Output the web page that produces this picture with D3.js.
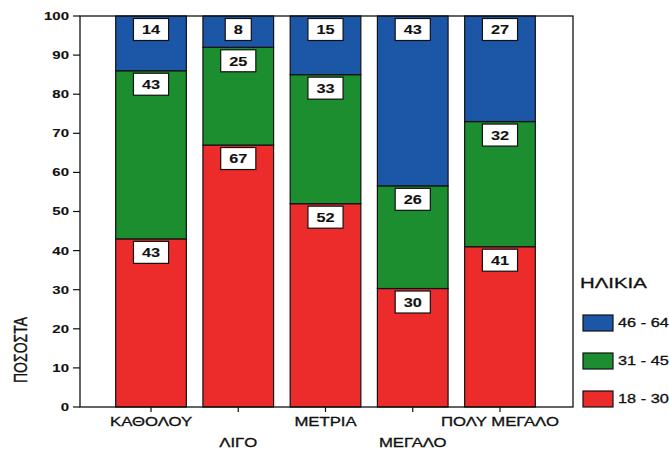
<!DOCTYPE html>
<html>
<head>
<meta charset="utf-8">
<script src="https://cdn.jsdelivr.net/npm/d3@7"></script>
<style>
  html, body { margin: 0; padding: 0; background: #fff; }
  svg { display: block; font-family: "Liberation Sans", Arial, sans-serif; }
</style>
</head>
<body>
<svg id="chart" width="669" height="451"></svg>
<script>
// ---- data ----
const categories = ["ΚΑΘΟΛΟΥ", "ΛΙΓΟ", "ΜΕΤΡΙΑ", "ΜΕΓΑΛΟ", "ΠΟΛΥ ΜΕΓΑΛΟ"];
const seriesNames = ["18 - 30", "31 - 45", "46 - 64"];
const age18_30 = [43, 67, 52, 30, 41];
const age31_45 = [43, 25, 33, 26, 32];
const age46_64 = [14, 8, 15, 43, 27];
const yTicks = [0, 10, 20, 30, 40, 50, 60, 70, 80, 90, 100];
const seriesColors = ["#ec2c2a", "#1c8e30", "#1c56a6"];
const legendTitle = "ΗΛΙΚΙΑ";
const yTitle = "ΠΟΣΟΣΤΑ";

// ---- setup ----
const SX = 1.36; // horizontal stretch of the scanned original's text
const svg = d3.select("#chart");
const frame = { left: 80, right: 573, top: 16, bottom: 407 };

const rows = categories.map((c, i) => ({
  cat: c,
  "18 - 30": age18_30[i],
  "31 - 45": age31_45[i],
  "46 - 64": age46_64[i]
}));

const stack = d3.stack().keys(seriesNames).offset(d3.stackOffsetExpand);
const stacked = stack(rows);

const x = d3.scaleBand().domain(categories).range([107.4, 543.6])
  .paddingInner(0.19).paddingOuter(0.095);
const y = d3.scaleLinear().domain([0, 1]).range([frame.bottom, frame.top]);
const color = d3.scaleOrdinal().domain(seriesNames).range(seriesColors);

function stretchedText(g, px, py, txt, opts = {}) {
  const w = g.append("g").attr("transform", `translate(${px},${py})`);
  const t = w.append("text")
    .attr("transform", `scale(${opts.sx || SX},1)` + (opts.rotate ? ` rotate(${opts.rotate})` : ""))
    .attr("text-anchor", opts.anchor || "start")
    .attr("font-size", opts.size || 12)
    .attr("font-weight", opts.weight || "normal")
    .attr("dy", opts.dy || 0)
    .attr("fill", "#111")
    .attr("stroke", "#111")
    .attr("stroke-width", opts.sw || 0.3)
    .text(txt);
  return t;
}

// ---- bars ----
const layers = svg.append("g").selectAll("g").data(stacked).join("g")
  .attr("fill", d => color(d.key));

layers.selectAll("rect").data(d => d).join("rect")
  .attr("x", d => x(d.data.cat))
  .attr("width", x.bandwidth())
  .attr("y", d => y(d[1]))
  .attr("height", d => y(d[0]) - y(d[1]))
  .attr("stroke", "#111")
  .attr("stroke-width", 1.2);

// ---- value labels ----
const labelG = svg.append("g");
stacked.forEach(layer => {
  layer.forEach(d => {
    const val = d.data[layer.key];
    const cx = x(d.data.cat) + x.bandwidth() / 2;
    const top = y(d[1]) + 2.5;
    const g = labelG.append("g");
    const rect = g.append("rect").attr("fill", "#fff").attr("stroke", "#111").attr("stroke-width", 1.2);
    const t = stretchedText(g, cx, top + 15.8, String(val), { anchor: "middle", size: 12, weight: "bold", sw: 0.1 });
    const tw = t.node().getComputedTextLength() * SX;
    rect.attr("x", cx - tw / 2 - 8.5).attr("y", top).attr("width", tw + 17).attr("height", 22);
  });
});

// ---- frame ----
svg.append("rect")
  .attr("x", frame.left).attr("y", frame.top)
  .attr("width", frame.right - frame.left).attr("height", frame.bottom - frame.top)
  .attr("fill", "none").attr("stroke", "#111").attr("stroke-width", 1.3);

// ---- y axis ----
const yAxisG = svg.append("g");
yTicks.forEach(v => {
  const yy = y(v / 100);
  yAxisG.append("line").attr("x1", frame.left - 7).attr("x2", frame.left)
    .attr("y1", yy).attr("y2", yy).attr("stroke", "#111").attr("stroke-width", 1.2);
  stretchedText(yAxisG, 69, yy, String(v), { anchor: "end", size: 11, weight: "bold", dy: "0.36em", sw: 0.1 });
});

// y title
stretchedText(svg, 20, 350, yTitle, { anchor: "middle", size: 14, rotate: -90, dy: "0.36em", sx: 1.3 });

// ---- x axis ----
const xAxisG = svg.append("g");
categories.forEach((c, i) => {
  const cx = x(c) + x.bandwidth() / 2;
  xAxisG.append("line").attr("x1", cx).attr("x2", cx)
    .attr("y1", frame.bottom).attr("y2", frame.bottom + 5)
    .attr("stroke", "#111").attr("stroke-width", 1.2);
  stretchedText(xAxisG, cx, i % 2 === 0 ? 426 : 447, c, { anchor: "middle", size: 12.3 });
});

// ---- legend ----
const legendG = svg.append("g");
stretchedText(legendG, 580, 288, legendTitle, { size: 15 });
const legendOrder = seriesNames.slice().reverse();
legendOrder.forEach((s, i) => {
  const ly = 315 + i * 38;
  legendG.append("rect").attr("x", 583).attr("y", ly).attr("width", 30).attr("height", 16)
    .attr("fill", color(s)).attr("stroke", "#111").attr("stroke-width", 1.2);
  stretchedText(legendG, 618, ly + 8, s, { size: 12, dy: "0.36em" });
});
</script>
</body>
</html>
